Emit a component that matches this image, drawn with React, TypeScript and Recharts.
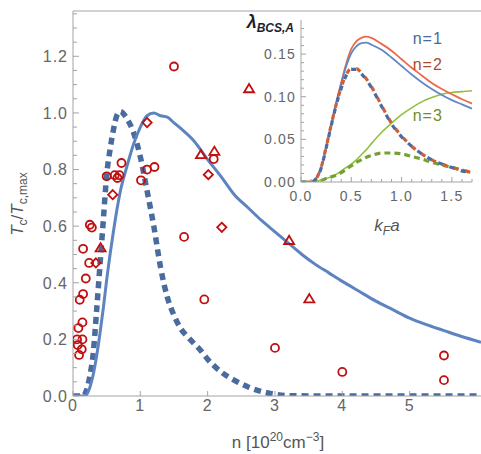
import React from "react";
import {
  ComposedChart,
  LineChart,
  Line,
  Scatter,
  XAxis,
  YAxis,
  ReferenceLine,
  ReferenceDot,
} from "recharts";

const FRAME = "#a3a3a3";
const TICK_TEXT = "#666666";
const LABEL_TEXT = "#555555";
const FONT = "'Liberation Sans', Arial, sans-serif";
const RED = "#c20e0e";

// ---- main panel: Tc / Tc,max vs n [1e20 cm^-3] ----
const mainXTicks = [0, 1, 2, 3, 4, 5];
const mainYTicks = [
  0, 0.05, 0.1, 0.15, 0.2, 0.25, 0.3, 0.35, 0.4, 0.45, 0.5, 0.55, 0.6, 0.65,
  0.7, 0.75, 0.8, 0.85, 0.9, 0.95, 1.0, 1.05, 1.1, 1.15, 1.2, 1.25, 1.3, 1.35,
];

const solidN = [
  0, 0.15, 0.2, 0.25, 0.3, 0.35, 0.4, 0.45, 0.5, 0.55, 0.6, 0.65, 0.7, 0.8,
  0.9, 1.0, 1.1, 1.2, 1.3, 1.4, 1.5, 1.6, 1.8, 2.0, 2.2, 2.4, 2.6, 2.8, 3.0,
  3.2, 3.4, 3.6, 3.8, 4.0, 4.25, 4.5, 4.75, 5.0, 5.25, 5.5, 5.75, 6.06,
];
const solidTc = [
  0, 0, 0.005, 0.03, 0.075, 0.14, 0.22, 0.31, 0.41, 0.5, 0.58, 0.655, 0.72,
  0.81, 0.89, 0.95, 0.99, 1.0, 0.99, 0.985, 0.965, 0.945, 0.9, 0.835, 0.775,
  0.71, 0.665, 0.62, 0.58, 0.54, 0.5, 0.465, 0.435, 0.405, 0.37, 0.335,
  0.305, 0.275, 0.252, 0.232, 0.212, 0.19,
];

const dashedN = [
  0, 0.15, 0.2, 0.25, 0.3, 0.35, 0.4, 0.45, 0.5, 0.55, 0.6, 0.65, 0.7, 0.8,
  0.9, 1.0, 1.1, 1.2, 1.3, 1.4, 1.5, 1.6, 1.7, 1.8, 1.9, 2.0, 2.2, 2.4, 2.6,
  2.8, 3.0, 3.2, 4.0, 5.0, 6.06,
];
const dashedTc = [
  0, 0, 0.02, 0.07, 0.15, 0.3, 0.46, 0.62, 0.78, 0.87, 0.94, 0.99, 1.005,
  0.98, 0.93, 0.845, 0.725, 0.6, 0.455, 0.35, 0.285, 0.238, 0.21, 0.185, 0.16,
  0.13, 0.085, 0.055, 0.032, 0.016, 0.006, 0.001, 0, 0, 0,
];

const circleN = [
  0.25, 0.28, 0.15, 0.24, 0.19, 0.15, 0.1, 0.14, 0.08, 0.14, 0.06, 0.07, 0.13,
  0.09, 0.5, 0.62, 0.66, 0.69, 0.72, 1.01, 1.1, 1.21, 1.5, 2.09, 1.65, 1.95,
  3.0, 4.0, 5.51, 5.51,
];
const circleTc = [
  0.605, 0.595, 0.52, 0.47, 0.415, 0.36, 0.34, 0.26, 0.24, 0.2, 0.2, 0.18,
  0.165, 0.145, 0.776, 0.78, 0.77, 0.78, 0.823, 0.762, 0.8, 0.809, 1.164,
  0.837, 0.562, 0.341, 0.17, 0.085, 0.143, 0.056,
];
const diamondN = [0.34, 0.59, 1.1, 2.01, 2.21];
const diamondTc = [0.47, 0.711, 0.966, 0.782, 0.596];
const triangleN = [0.41, 1.9, 2.1, 2.615, 3.21, 3.51];
const triangleTc = [0.523, 0.852, 0.864, 1.085, 0.549, 0.343];

// ---- inset: lambda_BCS,A vs kF a ----
const insetXTicks = [
  0, 0.1, 0.2, 0.3, 0.4, 0.5, 0.6, 0.7, 0.8, 0.9, 1.0, 1.1, 1.2, 1.3, 1.4, 1.5,
  1.6, 1.7,
];
const insetYTicks = [
  0, 0.01, 0.02, 0.03, 0.04, 0.05, 0.06, 0.07, 0.08, 0.09, 0.1, 0.11, 0.12,
  0.13, 0.14, 0.15, 0.16, 0.17, 0.18,
];
const kfa = [
  0, 0.1, 0.15, 0.2, 0.25, 0.3, 0.35, 0.4, 0.45, 0.5, 0.55, 0.6, 0.65, 0.7,
  0.8, 0.9, 1.0, 1.1, 1.2, 1.3, 1.4, 1.5, 1.6, 1.7,
];
const lamN1 = [
  0, 0, 0.004, 0.016, 0.04, 0.066, 0.092, 0.115, 0.136, 0.151, 0.159, 0.163,
  0.1635, 0.161, 0.155, 0.146, 0.136, 0.126, 0.117, 0.109, 0.102, 0.096,
  0.091, 0.086,
];
const lamN2 = [
  0, 0, 0.004, 0.017, 0.041, 0.067, 0.093, 0.117, 0.139, 0.156, 0.165, 0.169,
  0.1705, 0.169, 0.162, 0.154, 0.144, 0.134, 0.125, 0.116, 0.109, 0.103,
  0.097, 0.092,
];
const lamN3 = [
  0, 0, 0.001, 0.002, 0.004, 0.006, 0.009, 0.013, 0.017, 0.021, 0.026, 0.032,
  0.038, 0.045, 0.058, 0.069, 0.079, 0.087, 0.094, 0.099, 0.103, 0.105,
  0.106, 0.107,
];
const lamN1Dash = [
  0, 0, 0.004, 0.016, 0.04, 0.066, 0.09, 0.11, 0.125, 0.132, 0.132, 0.127,
  0.12, 0.111, 0.089, 0.068, 0.053, 0.042, 0.033, 0.026, 0.021, 0.017, 0.013,
  0.011,
];
const lamN2Dash = [
  0, 0, 0.004, 0.017, 0.041, 0.067, 0.091, 0.111, 0.126, 0.133, 0.133, 0.128,
  0.121, 0.112, 0.09, 0.069, 0.054, 0.042, 0.033, 0.026, 0.021, 0.017, 0.014,
  0.011,
];
const lamN3Dash = [
  0, 0, 0.001, 0.002, 0.004, 0.006, 0.008, 0.011, 0.015, 0.019, 0.023, 0.026,
  0.029, 0.031, 0.034, 0.034, 0.033, 0.03, 0.027, 0.023, 0.02, 0.017, 0.014,
  0.011,
];

const pairs = (xs: number[], ys: number[]) =>
  xs.map((x, i) => ({ x, y: ys[i] }));

const solidRows = pairs(solidN, solidTc);
const dashedRows = pairs(dashedN, dashedTc);
const circleRows = pairs(circleN, circleTc);
const diamondRows = pairs(diamondN, diamondTc);
const triangleRows = pairs(triangleN, triangleTc);

const insetRows = kfa.map((k, i) => ({
  k,
  n1: lamN1[i],
  n2: lamN2[i],
  n3: lamN3[i],
  n1d: lamN1Dash[i],
  n2d: lamN2Dash[i],
  n3d: lamN3Dash[i],
}));

const isMultiple = (v: number, step: number) =>
  Math.abs(v / step - Math.round(v / step)) < 1e-6;

// ---- tick renderers (ticks point into the frame) ----
const MainXTick = (props: any) => {
  const { x, y, payload } = props;
  return (
    <g>
      <line x1={x} x2={x} y1={y} y2={y - 5} stroke={FRAME} />
      <text
        x={x}
        y={y + 4}
        dy="0.71em"
        textAnchor="middle"
        fill={TICK_TEXT}
        fontSize={16}
        letterSpacing={1}
        fontFamily={FONT}
      >
        {payload.value}
      </text>
    </g>
  );
};

const MainYTick = (props: any) => {
  const { x, y, payload } = props;
  const v = payload.value as number;
  const major = isMultiple(v, 0.2);
  return (
    <g>
      <line x1={x} x2={x + (major ? 6 : 4)} y1={y} y2={y} stroke={FRAME} />
      {major && (
        <text
          x={x - 5}
          y={y}
          dy="0.36em"
          textAnchor="end"
          fill={TICK_TEXT}
          fontSize={16}
          letterSpacing={1}
          fontFamily={FONT}
        >
          {v.toFixed(1)}
        </text>
      )}
    </g>
  );
};

const InsetXTick = (props: any) => {
  const { x, y, payload } = props;
  const v = payload.value as number;
  const major = isMultiple(v, 0.5);
  return (
    <g>
      <line x1={x} x2={x} y1={y} y2={y - (major ? 5 : 3)} stroke={FRAME} />
      {major && (
        <text
          x={x}
          y={y + 9}
          dy="0.71em"
          textAnchor="middle"
          fill={TICK_TEXT}
          fontSize={14}
          letterSpacing={1.2}
          fontFamily={FONT}
        >
          {v.toFixed(1)}
        </text>
      )}
    </g>
  );
};

const InsetTopTick = (props: any) => {
  const { x, y, payload } = props;
  const major = isMultiple(payload.value, 0.5);
  return <line x1={x} x2={x} y1={y} y2={y + (major ? 5 : 3)} stroke={FRAME} />;
};

const InsetYTick = (props: any) => {
  const { x, y, payload } = props;
  const v = payload.value as number;
  const major = isMultiple(v, 0.05);
  return (
    <g>
      <line x1={x} x2={x + (major ? 5 : 3)} y1={y} y2={y} stroke={FRAME} />
      {major && (
        <text
          x={x - 5}
          y={y}
          dy="0.36em"
          textAnchor="end"
          fill={TICK_TEXT}
          fontSize={14}
          letterSpacing={1.2}
          fontFamily={FONT}
        >
          {v.toFixed(2)}
        </text>
      )}
    </g>
  );
};

const InsetRightTick = (props: any) => {
  const { x, y, payload } = props;
  const major = isMultiple(payload.value, 0.05);
  return <line x1={x} x2={x - (major ? 5 : 3)} y1={y} y2={y} stroke={FRAME} />;
};

// ---- scatter markers ----
const circleShape = (p: any) => (
  <circle cx={p.cx} cy={p.cy} r={4} fill="none" stroke={RED} strokeWidth={1.8} />
);
const diamondShape = (p: any) => (
  <polygon
    points={`${p.cx},${p.cy - 4.6} ${p.cx + 4.6},${p.cy} ${p.cx},${p.cy + 4.6} ${p.cx - 4.6},${p.cy}`}
    fill="none"
    stroke={RED}
    strokeWidth={1.8}
  />
);
const triangleShape = (p: any) => (
  <polygon
    points={`${p.cx},${p.cy - 4.8} ${p.cx + 5},${p.cy + 3.4} ${p.cx - 5},${p.cy + 3.4}`}
    fill="none"
    stroke={RED}
    strokeWidth={1.8}
  />
);

const nLabel = (text: string, color: string) => ({
  value: text,
  position: "center" as const,
  fill: color,
  fontSize: 16,
  fontFamily: FONT,
  letterSpacing: 1,
});

const App = () => {
  return (
    <div
      style={{
        position: "absolute",
        left: 0,
        top: 0,
        width: 481,
        height: 454,
        background: "#ffffff",
        fontFamily: FONT,
      }}
    >
      <ComposedChart
        width={481}
        height={454}
        margin={{ top: 11, right: 0, bottom: 0, left: 0 }}
      >
        <XAxis
          type="number"
          dataKey="x"
          domain={[0, 6.06]}
          ticks={mainXTicks}
          interval={0}
          height={58}
          tickSize={0}
          tickMargin={0}
          tickLine={false}
          axisLine={{ stroke: FRAME }}
          tick={<MainXTick />}
          allowDataOverflow
          label={() => (
            <text
              x={278}
              y={448}
              textAnchor="middle"
              fill={LABEL_TEXT}
              fontSize={17}
              fontFamily={FONT}
            >
              <tspan>n [10</tspan>
              <tspan fontSize={12} dy={-7}>20</tspan>
              <tspan dy={7}>cm</tspan>
              <tspan fontSize={12} dy={-7}>−3</tspan>
              <tspan dy={7}>]</tspan>
            </text>
          )}
        />
        <YAxis
          type="number"
          dataKey="y"
          domain={[0, 1.36]}
          ticks={mainYTicks}
          interval={0}
          width={73}
          tickSize={0}
          tickMargin={0}
          tickLine={false}
          axisLine={{ stroke: FRAME }}
          tick={<MainYTick />}
          allowDataOverflow
          label={() => (
            <text
              x={23}
              y={204}
              transform="rotate(-90, 23, 204)"
              textAnchor="middle"
              fill={LABEL_TEXT}
              fontSize={17}
              fontFamily={FONT}
            >
              <tspan fontStyle="italic">T</tspan>
              <tspan fontSize={12} dy={4}>c</tspan>
              <tspan dy={-4}>/</tspan>
              <tspan fontStyle="italic">T</tspan>
              <tspan fontSize={12} dy={4}>c,max</tspan>
            </text>
          )}
        />
        <ReferenceLine y={1.36} stroke={FRAME} />
        <Line
          data={dashedRows}
          dataKey="y"
          type="monotone"
          stroke="#4a6b9e"
          strokeWidth={5.5}
          strokeDasharray="7 5"
          dot={false}
          isAnimationActive={false}
        />
        <Line
          data={solidRows}
          dataKey="y"
          type="monotone"
          stroke="#5d84c1"
          strokeWidth={3}
          dot={false}
          isAnimationActive={false}
        />
        <Scatter
          data={circleRows}
          dataKey="y"
          shape={circleShape}
          isAnimationActive={false}
        />
        <Scatter
          data={diamondRows}
          dataKey="y"
          shape={diamondShape}
          isAnimationActive={false}
        />
        <Scatter
          data={triangleRows}
          dataKey="y"
          shape={triangleShape}
          isAnimationActive={false}
        />
      </ComposedChart>

      <div style={{ position: "absolute", left: 230, top: 0 }}>
        <LineChart
          width={251}
          height={240}
          data={insetRows}
          margin={{ top: 20, right: 9, bottom: 0, left: 0 }}
        >
          <XAxis
            type="number"
            dataKey="k"
            domain={[0, 1.7]}
            ticks={insetXTicks}
            interval={0}
            height={58}
            tickSize={0}
            tickMargin={0}
            tickLine={false}
            axisLine={{ stroke: FRAME }}
            tick={<InsetXTick />}
            allowDataOverflow
            label={() => (
              <text
                x={157}
                y={231}
                textAnchor="middle"
                fill={LABEL_TEXT}
                fontSize={17}
                fontFamily={FONT}
                fontStyle="italic"
              >
                <tspan>k</tspan>
                <tspan fontSize={12} dy={4}>F</tspan>
                <tspan dy={-4}>a</tspan>
              </text>
            )}
          />
          <XAxis
            xAxisId="top"
            orientation="top"
            type="number"
            domain={[0, 1.7]}
            ticks={insetXTicks}
            interval={0}
            height={0}
            tickSize={0}
            tickMargin={0}
            tickLine={false}
            axisLine={{ stroke: FRAME }}
            tick={<InsetTopTick />}
          />
          <YAxis
            type="number"
            domain={[0, 0.19]}
            ticks={insetYTicks}
            interval={0}
            width={71}
            tickSize={0}
            tickMargin={0}
            tickLine={false}
            axisLine={{ stroke: FRAME }}
            tick={<InsetYTick />}
            allowDataOverflow
            label={() => (
              <text x={64} y={28} textAnchor="end" fill="#1d1d2b" fontFamily={FONT}>
                <tspan fontSize={18} fontWeight="bold" fontStyle="italic">
                  λ
                </tspan>
                <tspan fontSize={12} fontWeight="bold" fontStyle="italic" dy={4}>
                  BCS,A
                </tspan>
              </text>
            )}
          />
          <YAxis
            yAxisId="right"
            orientation="right"
            type="number"
            domain={[0, 0.19]}
            ticks={insetYTicks}
            interval={0}
            width={0}
            tickSize={0}
            tickMargin={0}
            tickLine={false}
            axisLine={{ stroke: FRAME }}
            tick={<InsetRightTick />}
          />
          <Line
            dataKey="n3"
            type="monotone"
            stroke="#93c03c"
            strokeWidth={1.6}
            dot={false}
            isAnimationActive={false}
          />
          <Line
            dataKey="n2"
            type="monotone"
            stroke="#ec6a4c"
            strokeWidth={1.8}
            dot={false}
            isAnimationActive={false}
          />
          <Line
            dataKey="n1"
            type="monotone"
            stroke="#6088c4"
            strokeWidth={1.8}
            dot={false}
            isAnimationActive={false}
          />
          <Line
            dataKey="n3d"
            type="monotone"
            stroke="#76a132"
            strokeWidth={3.2}
            strokeDasharray="6 4"
            dot={false}
            isAnimationActive={false}
          />
          <Line
            dataKey="n2d"
            type="monotone"
            stroke="#cf6036"
            strokeWidth={3.2}
            strokeDasharray="5 7"
            strokeDashoffset={6}
            dot={false}
            isAnimationActive={false}
          />
          <Line
            dataKey="n1d"
            type="monotone"
            stroke="#4a6ca3"
            strokeWidth={3.2}
            strokeDasharray="5 7"
            dot={false}
            isAnimationActive={false}
          />
          <ReferenceDot x={1.26} y={0.169} r={1} fill="none" stroke="none" label={nLabel("n=1", "#4a6a9a")} />
          <ReferenceDot x={1.26} y={0.138} r={1} fill="none" stroke="none" label={nLabel("n=2", "#a84e2c")} />
          <ReferenceDot x={1.26} y={0.0785} r={1} fill="none" stroke="none" label={nLabel("n=3", "#6e8f2a")} />
        </LineChart>
      </div>
    </div>
  );
};

export default App;
